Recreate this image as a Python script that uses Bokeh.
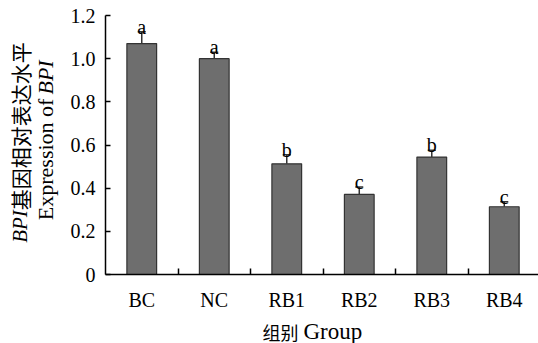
import numpy as np
from bokeh.plotting import figure
from bokeh.layouts import row, column
from bokeh.models import ColumnDataSource, Range1d, FixedTicker, Whisker, TeeHead
from bokeh.core.properties import value
from bokeh.embed import file_html
from bokeh.resources import INLINE

# ---- data ----
groups = ["BC", "NC", "RB1", "RB2", "RB3", "RB4"]
means = [1.07, 1.00, 0.513, 0.371, 0.544, 0.314]
errors = [0.055, 0.030, 0.042, 0.034, 0.032, 0.023]
letters = ["a", "a", "b", "c", "b", "c"]
y_ticks = [0, 0.2, 0.4, 0.6, 0.8, 1.0, 1.2]
y_tick_labels = ["0", "0.2", "0.4", "0.6", "0.8", "1.0", "1.2"]

LATIN = "Liberation Serif"
CJK = "Noto Sans CJK SC"

xpos = np.arange(len(groups)) + 0.5
upper = [m + e for m, e in zip(means, errors)]
src = ColumnDataSource(dict(x=xpos, top=means, upper=upper,
                            letters=letters, group=groups))

MAIN_H = 318
XLAB_H = 343 - MAIN_H
YLAB_W = 60

p = figure(width=538 - YLAB_W, height=MAIN_H, output_backend="svg",
           toolbar_location=None,
           x_range=Range1d(0, 5.972), y_range=Range1d(0, 1.2),
           min_border_left=45, min_border_right=0, min_border_top=15,
           min_border_bottom=44)
p.outline_line_color = None
p.xgrid.visible = False
p.ygrid.visible = False

p.vbar(x="x", top="top", bottom=0, width=0.41, source=src,
       fill_color="#6e6e6e", line_color="#333333", line_width=1.2)

w = Whisker(base="x", lower="top", upper="upper", source=src,
            line_color="#333333", line_width=1.5,
            upper_head=TeeHead(size=8, line_color="#333333", line_width=1.5),
            lower_head=None)
p.add_layout(w)

p.text(x="x", y="upper", text="letters", source=src, text_align="center",
       text_baseline="alphabetic", y_offset=-5,
       text_font=value(LATIN), text_font_size="20px", text_color="black")

# x axis
p.xaxis.ticker = FixedTicker(ticks=list(xpos),
                             minor_ticks=list(np.arange(1, len(groups))))
p.xaxis.major_label_overrides = {float(x): g for x, g in zip(xpos, groups)}
p.xaxis.major_tick_in = 0
p.xaxis.major_tick_out = 0
p.xaxis.minor_tick_in = 6
p.xaxis.minor_tick_out = 0
p.xaxis.minor_tick_line_width = 1.5
p.xaxis.major_label_standoff = 14

# y axis
p.yaxis.ticker = FixedTicker(ticks=y_ticks)
p.yaxis.major_label_overrides = {float(t): l for t, l in zip(y_ticks, y_tick_labels)}
p.yaxis.major_tick_in = 5
p.yaxis.major_tick_out = 0
p.yaxis.minor_tick_in = 0
p.yaxis.minor_tick_out = 0
p.yaxis.major_label_standoff = 10

for ax in (p.xaxis, p.yaxis):
    ax.axis_line_color = "black"
    ax.axis_line_width = 1.5
    ax.major_tick_line_color = "black"
    ax.major_tick_line_width = 1.5
    ax.minor_tick_line_color = "black"
    ax.major_label_text_font = LATIN
    ax.major_label_text_font_size = "20px"
    ax.major_label_text_color = "black"


def blank(width, height):
    f = figure(width=width, height=height, output_backend="svg",
               toolbar_location=None, x_axis_location=None,
               y_axis_location=None, x_range=Range1d(0, width),
               y_range=Range1d(0, height), min_border=0)
    f.outline_line_color = None
    f.grid.visible = False
    return f


# y axis title (rotated, italic gene name); pieces meet at a junction
yl = blank(YLAB_W, MAIN_H)


def ytxt(text, x, y, font, style, align, size):
    yl.text(x=[x], y=[y], text=[text], angle=np.pi / 2,
            text_font=value(font), text_font_style=style,
            text_font_size=size, text_color="black",
            text_align=align, text_baseline="middle")


J1 = 79
ytxt("BPI", 19, J1, LATIN, "italic", "right", "21px")
ytxt("基因相对表达水平", 19, J1, CJK, "normal", "left", "21px")
J2 = 221
ytxt("Expression of", 45, J2 - 5, LATIN, "normal", "right", "22px")
ytxt("BPI", 45, J2, LATIN, "italic", "left", "22px")

# x axis title
xl = blank(538, XLAB_H)
xl.text(x=[262], y=[12], text=["组别"], text_font=value(CJK),
        text_font_size="18px", text_color="black",
        text_align="left", text_baseline="alphabetic")
xl.text(x=[303], y=[12], text=["Group"], text_font=value(LATIN),
        text_font_size="23px", text_color="black",
        text_align="left", text_baseline="alphabetic")

layout = column(row(yl, p), xl)
open("out.html", "w").write(file_html(layout, INLINE))
